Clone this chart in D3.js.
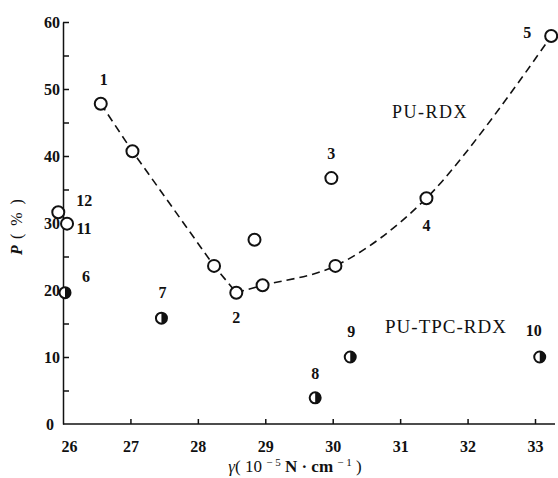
<!DOCTYPE html>
<html>
<head>
<meta charset="utf-8">
<script src="https://cdn.jsdelivr.net/npm/d3@7"></script>
<style>
body{margin:0;background:#fff;}
svg text{font-family:"Liberation Serif","DejaVu Serif",serif;fill:#111;}
</style>
</head>
<body>
<div id="chart"></div>
<script>
// PU-RDX (open circles)
var rdxX = [26.56, 27.03, 28.24, 28.57, 28.96, 28.84, 29.98, 30.04, 31.39, 33.24, 25.93, 26.06];
var rdxY = [47.8, 40.7, 23.6, 19.6, 20.7, 27.5, 36.7, 23.6, 33.7, 57.9, 31.6, 29.9];
var rdxLab = ["1", "", "", "2", "", "", "3", "", "4", "5", "12", "11"];
// PU-TPC-RDX (half filled)
var tpcX = [26.03, 27.46, 29.74, 30.26, 33.07];
var tpcY = [19.6, 15.8, 3.9, 10.0, 10.0];
var tpcLab = ["6", "7", "8", "9", "10"];
// dashed trend line
var leftX = [26.56, 27.03, 28.24, 28.57];
var leftY = [47.8, 40.7, 23.6, 19.6];
var rightX = [28.57, 28.96, 30.04, 31.39, 33.24];
var rightY = [19.6, 20.7, 23.6, 33.7, 57.9];
var xTicks = [26, 27, 28, 29, 30, 31, 32, 33];
var yTicks = [0, 10, 20, 30, 40, 50, 60];
var yMinor = [5, 15, 25, 35, 45, 55];

var W = 558, H = 478;
var x = d3.scaleLinear().domain([26, 33]).range([63, 535]);
var y = d3.scaleLinear().domain([0, 60]).range([424, 22]);

var svg = d3.select("#chart").append("svg").attr("width", W).attr("height", H);

// axes
var xAxis = svg.append("g").attr("transform", "translate(0," + y(0) + ")")
  .call(d3.axisBottom(x).tickValues(xTicks).tickFormat(d3.format("d"))
    .tickSizeInner(-5).tickSizeOuter(0).tickPadding(17));
xAxis.select(".domain").attr("d", "M" + x(26) + ",0H" + 555);
xAxis.selectAll(".tick").filter(function(d){ return d === 26; }).select("line").remove();
xAxis.selectAll(".tick text").attr("dx", function(d){ return d === 26 ? 6 : 0; });
var yAxis = svg.append("g").attr("transform", "translate(" + x(26) + ",0)")
  .call(d3.axisLeft(y).tickValues(yTicks).tickSizeInner(-6).tickSizeOuter(0).tickPadding(3));
yAxis.selectAll(".tick").filter(function(d){ return d === 0; }).select("line").remove();
yAxis.selectAll(".tick").filter(function(d){ return d === 0; }).select("text").attr("dx", -6);
svg.append("g").attr("transform", "translate(" + x(26) + ",0)")
  .call(d3.axisLeft(y).tickValues(yMinor).tickSizeInner(-6).tickSizeOuter(0).tickFormat(""))
  .select(".domain").remove();
svg.selectAll(".domain, .tick line").attr("stroke", "#111").attr("stroke-width", 1.5);
svg.selectAll(".tick text").style("font-size", "16px").style("font-weight", "bold")
  .attr("fill", "#111");

// axis titles
var yt = svg.append("text").attr("transform", "translate(22,226) rotate(-90)")
  .attr("text-anchor", "middle").style("font-size", "16px");
yt.append("tspan").text("P").style("font-style", "italic").style("font-weight", "bold");
yt.append("tspan").text(" ( % )").style("letter-spacing", "2px");

var xt = svg.append("text").attr("x", 295).attr("y", 472).attr("text-anchor", "middle")
  .style("font-size", "17px");
xt.append("tspan").text("γ").style("font-style", "italic");
xt.append("tspan").text("(  10 ");
xt.append("tspan").text("− 5").attr("dy", -6).style("font-size", "11px");
xt.append("tspan").text(" N · cm ").attr("dy", 6).style("font-weight", "bold");
xt.append("tspan").text("− 1").attr("dy", -6).style("font-size", "11px");
xt.append("tspan").text("  )").attr("dy", 6);

// dashed line
var line = d3.line().x(function(d){ return x(d[0]); }).y(function(d){ return y(d[1]); });
svg.append("path").datum(d3.zip(leftX, leftY))
  .attr("d", line).attr("fill", "none").attr("stroke", "#111")
  .attr("stroke-width", 1.6).attr("stroke-dasharray", "8,5");
svg.append("path").datum(d3.zip(rightX, rightY))
  .attr("d", line.curve(d3.curveCatmullRom.alpha(0.5))).attr("fill", "none").attr("stroke", "#111")
  .attr("stroke-width", 1.6).attr("stroke-dasharray", "8,5");

// open circles
svg.selectAll(".rdx").data(d3.range(rdxX.length)).enter().append("circle")
  .attr("cx", function(i){ return x(rdxX[i]); })
  .attr("cy", function(i){ return y(rdxY[i]); })
  .attr("r", 6).attr("fill", "#fff").attr("stroke", "#111").attr("stroke-width", 2);

// half filled circles
var g = svg.selectAll(".tpc").data(d3.range(tpcX.length)).enter().append("g")
  .attr("transform", function(i){ return "translate(" + x(tpcX[i]) + "," + y(tpcY[i]) + ")"; });
g.append("circle").attr("r", 5.5).attr("fill", "#fff").attr("stroke", "#111").attr("stroke-width", 2);
g.append("path").attr("d", "M0,-5.5A5.5,5.5 0 0 1 0,5.5Z").attr("fill", "#111");

// point labels
var labOff = {"1":[3,-24], "2":[0,25], "3":[0,-25], "4":[0,27], "5":[-24,-4], "12":[26,-12], "11":[17,5]};
var tpcOff = {"6":[21,-16], "7":[1,-26], "8":[0,-24], "9":[1,-26], "10":[-6,-27]};
var lab = [];
rdxLab.forEach(function(t, i){ if (t) lab.push([x(rdxX[i]) + labOff[t][0], y(rdxY[i]) + labOff[t][1], t]); });
tpcLab.forEach(function(t, i){ lab.push([x(tpcX[i]) + tpcOff[t][0], y(tpcY[i]) + tpcOff[t][1], t]); });
svg.selectAll(".lab").data(lab).enter().append("text")
  .attr("x", function(d){ return d[0]; }).attr("y", function(d){ return d[1]; })
  .attr("dy", "0.35em").attr("text-anchor", "middle")
  .style("font-size", "16px").style("font-weight", "bold").text(function(d){ return d[2]; });

svg.append("text").attr("x", 430).attr("y", 118).attr("text-anchor", "middle")
  .style("font-size", "18px").style("letter-spacing", "1.5px").text("PU-RDX");
svg.append("text").attr("x", 446).attr("y", 333).attr("text-anchor", "middle")
  .style("font-size", "19px").style("letter-spacing", "1px").text("PU-TPC-RDX");
</script>
</body>
</html>
